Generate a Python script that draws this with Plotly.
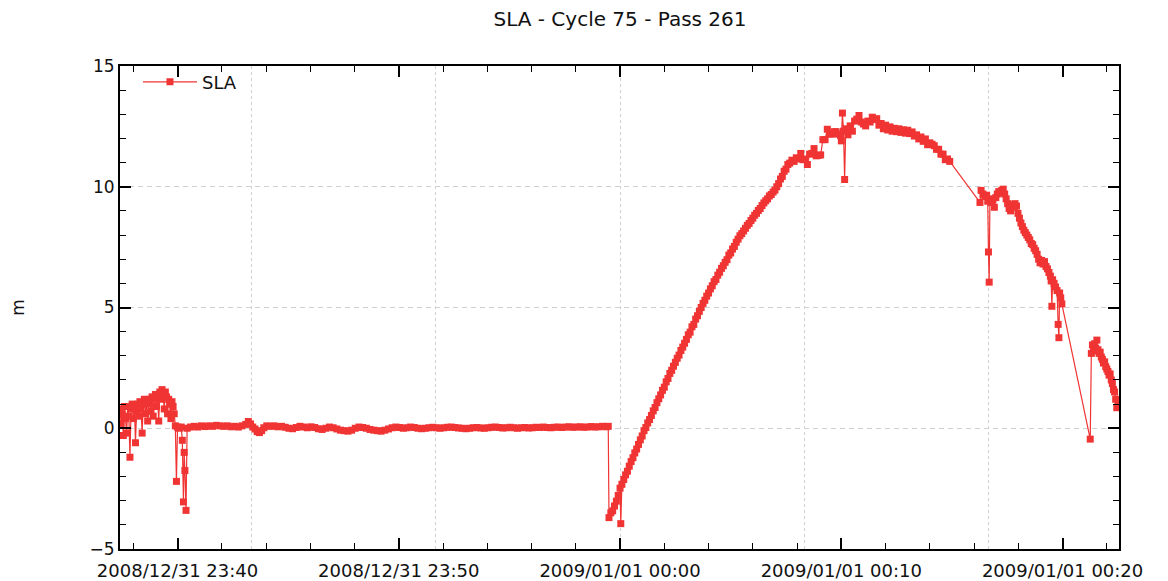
import pandas as pd
import plotly.graph_objects as go

# Time offsets in seconds relative to 2009-01-01 00:00:00 and SLA values (m)
seg1_t = [-1356, -1353, -1350, -1347, -1344, -1341, -1338, -1335, -1332, -1329,
          -1326, -1323, -1320, -1317, -1314, -1311, -1308, -1305, -1302, -1299,
          -1296, -1293, -1290, -1287, -1284, -1281, -1278, -1275, -1272, -1269,
          -1266, -1263, -1260, -1257, -1254, -1251, -1248, -1245, -1242, -1239,
          -1236, -1233, -1230, -1227, -1224, -1221, -1218, -1215, -1212, -1209, -1206]
seg1_v = [0.8, 0.2, 0.6, -0.3, 0.9, 0.4, -0.2, 0.9, 0.5, -1.2,
          0.8, 1.0, 0.4, 0.9, -0.6, 0.7, 1.0, 0.5, 1.1, 0.8,
          -0.2, 1.0, 1.2, 0.6, 1.1, 0.3, 1.0, 1.2, 0.7, 1.3,
          0.5, 1.2, 1.4, 0.9, 1.3, 0.3, 1.5, 1.2, 1.6, 1.4,
          0.8, 1.5, 1.3, 0.6, 1.2, 1.0, 0.4, 1.1, 0.9, 0.6, 0.1]

seg2_t = [-1203, -1200, -1195, -1190, -1187, -1184, -1182, -1180, -1177, -1174,
          -1165, -1155, -1145, -1135, -1125, -1115, -1105, -1095, -1085, -1075,
          -1065, -1055, -1045, -1035, -1025, -1015, -1008, -1002, -996, -990,
          -984, -978, -972, -966, -958, -948, -938, -928, -918, -908,
          -898, -888, -878, -868, -858, -848, -838, -828, -818, -808,
          -798, -788, -778, -768, -758, -748, -738, -728, -718, -708,
          -698, -688, -678, -668, -658, -648, -638, -628, -618, -608,
          -598, -588, -578, -568, -558, -548, -538, -528, -518, -508,
          -498, -488, -478, -468, -458, -448, -438, -428, -418, -408,
          -398, -388, -378, -368, -358, -348, -338, -328, -318, -308,
          -298, -288, -278, -268, -258, -248, -238, -228, -218, -208,
          -198, -188, -178, -168, -158, -148, -138, -128, -118, -108,
          -98, -88, -78, -68, -58, -48, -38, -32]
seg2_v = [-2.20, 0.05, 0.00, 0.05, -0.50, -3.05, -1.00, -1.75, -3.40, 0.00,
          0.05, 0.08, 0.05, 0.10, 0.07, 0.10, 0.08, 0.12, 0.10, 0.08,
          0.10, 0.06, 0.08, 0.05, 0.10, 0.16, 0.28, 0.18, 0.05, -0.03,
          -0.14, -0.18, -0.10, 0.02, 0.10, 0.08, 0.10, 0.06, 0.08, 0.04,
          0.00, -0.02, 0.03, 0.08, 0.05, 0.02, 0.06, 0.03, -0.02, -0.05,
          0.00, 0.05, 0.02, -0.03, -0.08, -0.10, -0.12, -0.08, 0.00, 0.05,
          0.03, 0.00, -0.05, -0.08, -0.10, -0.12, -0.08, -0.03, 0.02, 0.05,
          0.03, 0.00, 0.02, 0.05, 0.03, 0.00, -0.02, 0.00, 0.02, 0.04,
          0.02, 0.00, 0.02, 0.04, 0.05, 0.03, 0.01, 0.00, -0.02, 0.00,
          0.02, 0.03, 0.01, 0.00, 0.02, 0.04, 0.05, 0.03, 0.01, 0.02,
          0.04, 0.02, 0.00, 0.02, 0.03, 0.01, 0.02, 0.04, 0.03, 0.05,
          0.03, 0.02, 0.04, 0.05, 0.03, 0.05, 0.06, 0.04, 0.05, 0.06,
          0.04, 0.05, 0.07, 0.05, 0.06, 0.08, 0.06, 0.08]

seg3_t = [-30, -25, -20, -15, -10, -5, 0, 2, 5, 10,
          15, 20, 25, 30, 35, 40, 45, 50, 55, 60,
          65, 70, 75, 80, 85, 90, 95, 100, 105, 110,
          115, 120, 125, 130, 135, 140, 145, 150, 155, 160,
          165, 170, 175, 180, 185, 190, 195, 200, 205, 210,
          215, 220, 225, 230, 235, 240, 245, 250, 255, 260,
          265, 270, 275, 280, 285, 290, 295, 300, 305, 310,
          315, 320, 325, 330, 335, 340, 345, 350, 355, 360,
          365, 370, 375, 380, 385, 390, 395, 400, 405, 410,
          415, 420, 425, 430, 435, 440, 445, 450, 455, 460]
seg3_v = [-3.70, -3.50, -3.42, -3.22, -3.02, -2.78, -2.48, -3.95, -2.32, -2.12,
          -1.93, -1.78, -1.57, -1.38, -1.22, -1.02, -0.86, -0.67, -0.48, -0.32,
          -0.10, 0.03, 0.22, 0.36, 0.53, 0.72, 0.86, 1.06, 1.22, 1.38,
          1.57, 1.70, 1.92, 2.06, 2.27, 2.40, 2.57, 2.73, 2.90, 3.03,
          3.22, 3.36, 3.52, 3.68, 3.87, 3.98, 4.20, 4.30, 4.52, 4.66,
          4.84, 5.00, 5.17, 5.30, 5.47, 5.60, 5.77, 5.90, 6.07, 6.16,
          6.34, 6.46, 6.62, 6.73, 6.87, 6.98, 7.17, 7.26, 7.42, 7.53,
          7.70, 7.83, 7.97, 8.06, 8.17, 8.28, 8.40, 8.48, 8.60, 8.70,
          8.82, 8.90, 9.02, 9.10, 9.22, 9.33, 9.42, 9.50, 9.62, 9.68,
          9.78, 9.86, 10.00, 10.13, 10.32, 10.43, 10.64, 10.73, 10.92, 10.98]

seg4_t = [466, 472, 478, 484, 490, 496, 502, 508, 514, 520,
          526, 532, 538, 544, 550, 556, 562, 568, 574, 580,
          586, 592, 598, 600, 603, 606, 609, 612, 618, 624,
          630, 636, 642, 648, 654, 660, 666, 672, 678, 684,
          690, 696, 702, 708, 714, 720, 726, 732, 738, 744,
          750, 756, 762, 768, 774, 780, 786, 792, 798, 804,
          810, 816, 822, 828, 834, 840, 846, 852, 858, 864,
          870, 876, 882, 888, 894]
seg4_v = [11.10, 11.05, 11.20, 11.15, 11.38, 11.12, 11.15, 10.92, 11.35, 11.38,
          11.58, 11.28, 11.30, 11.32, 11.95, 11.95, 12.38, 12.18, 12.18, 12.28,
          12.28, 12.18, 12.12, 11.90, 13.05, 12.30, 10.30, 12.40, 12.15, 12.52,
          12.30, 12.72, 12.80, 12.95, 12.68, 12.60, 12.52, 12.72, 12.68, 12.88,
          12.78, 12.82, 12.55, 12.62, 12.40, 12.55, 12.35, 12.48, 12.30, 12.42,
          12.28, 12.40, 12.25, 12.36, 12.22, 12.34, 12.20, 12.27, 12.10, 12.15,
          11.98, 12.06, 11.88, 11.98, 11.74, 11.82, 11.76, 11.70, 11.55, 11.55,
          11.35, 11.35, 11.12, 11.15, 11.05]

seg5_t = [976, 979, 984, 989, 994, 997, 999, 1001, 1003, 1007,
          1011, 1015, 1019, 1023, 1027, 1031, 1035, 1039, 1043, 1047,
          1051, 1055, 1059, 1063, 1067, 1071, 1075, 1079, 1083, 1087,
          1091, 1095, 1099, 1103, 1107, 1111, 1115, 1119, 1123, 1127,
          1131, 1135, 1139, 1143, 1147, 1151, 1155, 1159, 1163, 1167,
          1169, 1171, 1173, 1177, 1181, 1185, 1188, 1190, 1192, 1195, 1198]
seg5_v = [9.35, 9.85, 9.70, 9.60, 9.65, 9.40, 7.30, 6.05, 9.50, 9.35,
          9.45, 9.15, 9.55, 9.70, 9.80, 9.75, 9.85, 9.90, 9.70, 9.50,
          9.30, 9.10, 9.00, 9.25, 9.15, 9.30, 9.20, 8.90, 8.70, 8.50,
          8.35, 8.20, 8.10, 8.00, 7.90, 7.80, 7.65, 7.60, 7.45, 7.35,
          7.20, 7.00, 6.85, 6.95, 6.80, 6.90, 6.70, 6.60, 6.45, 6.30,
          6.10, 5.05, 6.15, 6.00, 5.85, 5.70, 4.30, 3.75, 5.60, 5.40, 5.15]

seg6_t = [1275, 1278, 1281, 1284, 1287, 1290, 1293, 1296, 1299, 1302,
          1305, 1308, 1311, 1314, 1317, 1320, 1323, 1326, 1329, 1332,
          1335, 1338, 1341, 1344, 1347, 1350]
seg6_v = [-0.45, 3.10, 3.45, 3.20, 3.50, 3.30, 3.65, 3.25, 3.10, 3.15,
          2.95, 2.85, 2.70, 2.75, 2.55, 2.45, 2.35, 2.20, 2.25, 2.00,
          1.85, 1.60, 1.50, 1.20, 0.85, 1.15]

BASE = "2009-01-01 00:00:00"
X_START_S = -1356
X_END_S = 1353
Y_TICK_VALUES = [-5, 0, 5, 10, 15]

RED = "#F03434"
FONT = "DejaVu Sans"
GRID = "#D0D0D0"

t_all = seg1_t + seg2_t + seg3_t + seg4_t + seg5_t + seg6_t
v_all = seg1_v + seg2_v + seg3_v + seg4_v + seg5_v + seg6_v

base = pd.Timestamp(BASE)
x_all = base + pd.to_timedelta(t_all, unit="s")
x_range = [base + pd.Timedelta(seconds=X_START_S), base + pd.Timedelta(seconds=X_END_S)]

fig = go.Figure()
fig.add_trace(go.Scatter(
    x=x_all, y=v_all, mode="lines+markers", name="SLA",
    line=dict(color=RED, width=1.2),
    marker=dict(symbol="square", size=7, color=RED, line=dict(width=0)),
))
# helper empty trace for the overlay grid axis
fig.add_trace(go.Scatter(x=[], y=[], xaxis="x2", showlegend=False, hoverinfo="skip"))

fig.update_layout(
    width=1168, height=581,
    margin=dict(l=112, r=57, t=58, b=40, autoexpand=False),
    paper_bgcolor="white", plot_bgcolor="white",
    font=dict(family=FONT, color="#111111"),
    title=dict(text="SLA - Cycle 75 - Pass 261", x=612 / 1168, xanchor="center",
               y=1 - 11 / 581, yanchor="middle", yref="container",
               font=dict(family=FONT, size=20, color="#111111")),
    showlegend=True,
    legend=dict(x=0.018, y=1.005, xanchor="left", yanchor="top",
                itemwidth=54,
                bgcolor="rgba(0,0,0,0)", borderwidth=0,
                font=dict(family=FONT, size=18, color="#111111")),
    xaxis=dict(
        type="date", range=x_range, automargin=False,
        tickformat="%Y/%m/%d %H:%M", tick0=BASE, dtick=600000,
        ticks="inside", ticklen=11, tickwidth=1.5, tickcolor="black",
        minor=dict(dtick=120000, tick0=BASE, ticks="inside", ticklen=6,
                   tickwidth=1.2, tickcolor="black", showgrid=False),
        showline=True, linewidth=2, linecolor="black", mirror="ticks",
        showgrid=False, zeroline=False, ticklabelstandoff=4,
        tickfont=dict(family=FONT, size=18, color="#111111"),
    ),
    xaxis2=dict(
        type="date", overlaying="x", matches="x", range=x_range, automargin=False,
        tick0=BASE, dtick=500000, showticklabels=False, ticks="",
        showline=False, showgrid=True, gridcolor=GRID, griddash="3px,3px",
        gridwidth=1, zeroline=False,
    ),
    yaxis=dict(
        range=[-5, 15], tickvals=Y_TICK_VALUES, automargin=False,
        ticks="inside", ticklen=11, tickwidth=1.5, tickcolor="black",
        minor=dict(dtick=1, ticks="inside", ticklen=6, tickwidth=1.2,
                   tickcolor="black", showgrid=False),
        showline=True, linewidth=2, linecolor="black", mirror="ticks",
        showgrid=True, gridcolor=GRID, griddash="5px,4px", gridwidth=1,
        zeroline=False, tickfont=dict(family=FONT, size=17, color="#111111"),
        title=dict(text="m", standoff=69, font=dict(family=FONT, size=17, color="#111111")),
    ),
)

fig.write_html("out.html")
